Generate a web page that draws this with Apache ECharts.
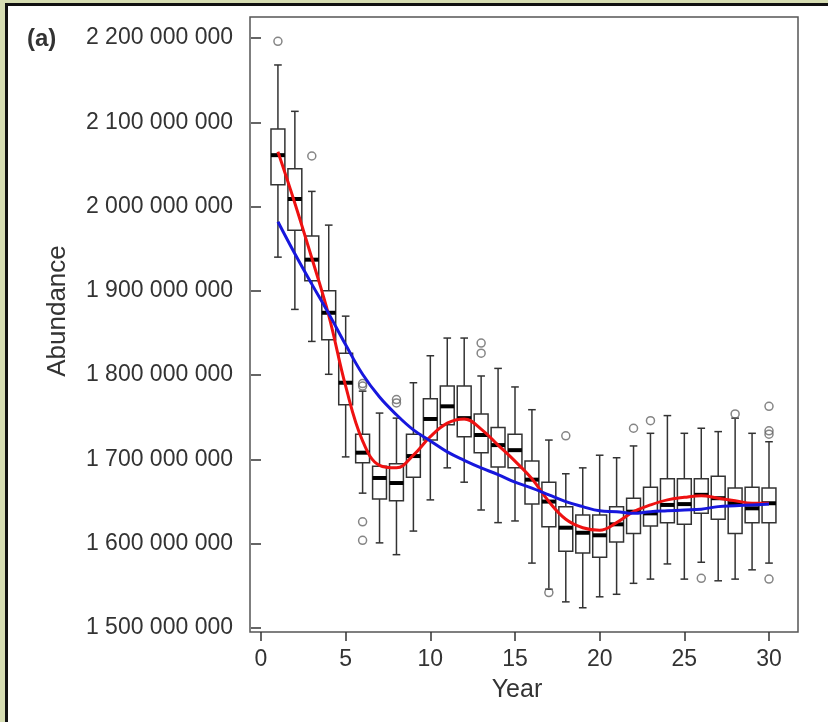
<!DOCTYPE html>
<html>
<head>
<meta charset="utf-8">
<script src="https://cdn.jsdelivr.net/npm/echarts@6/dist/echarts.min.js"></script>
<style>
  html, body { margin: 0; padding: 0; }
  body { width: 828px; height: 722px; background: #d6ddb2; position: relative; overflow: hidden; }
  .frame {
    position: absolute; left: 5px; top: 3px; right: -10px; bottom: -10px;
    background: #fff; border-left: 3px solid #111; border-top: 3px solid #111;
  }
  #chart { position: absolute; left: 0; top: 0; width: 828px; height: 722px; }
</style>
</head>
<body>
<div class="frame"></div>
<div id="chart"></div>
<script>
// values in millions
var years = [1,2,3,4,5,6,7,8,9,10,11,12,13,14,15,16,17,18,19,20,21,22,23,24,25,26,27,28,29,30];
var whiskerLow  = [1940,1878,1840,1801,1703,1660,1601,1587,1615,1652,1690,1673,1640,1625,1627,1577,1546,1531,1524,1537,1540,1553,1558,1576,1558,1578,1556,1558,1569,1577];
var q1          = [2026,1972,1912,1842,1765,1696,1653,1651,1679,1723,1741,1727,1708,1691,1690,1647,1620,1591,1589,1584,1602,1612,1621,1625,1623,1636,1629,1612,1625,1625];
var medians     = [2061,2009,1937,1874,1791,1708,1678,1672,1704,1748,1763,1749,1729,1717,1711,1676,1650,1619,1613,1610,1623,1638,1636,1646,1647,1658,1654,1648,1642,1648];
var q3          = [2092,2045,1965,1900,1826,1730,1692,1695,1730,1772,1787,1787,1754,1738,1730,1698,1673,1644,1634,1634,1644,1654,1667,1677,1677,1677,1680,1666,1667,1666];
var whiskerHigh = [2168,2113,2018,1978,1870,1781,1755,1749,1791,1823,1844,1844,1799,1808,1786,1759,1723,1683,1690,1705,1702,1716,1731,1752,1731,1737,1733,1749,1731,1721];
var outliers = [
  [1,2196],[3,2060],[6,1790],[6,1787],[6,1626],[6,1604],[8,1771],[8,1767],
  [13,1838],[13,1826],[17,1542],[18,1728],[22,1737],[23,1746],[26,1559],
  [28,1754],[30,1763],[30,1734],[30,1730],[30,1558]
];
var redCurve  = [2065,2004,1939,1871,1787,1722,1693,1690,1705,1727,1743,1748,1736,1717,1698,1677,1650,1629,1619,1616,1625,1638,1646,1652,1655,1657,1654,1651,1648,1648];
var blueCurve = [1982,1944,1908,1873,1836,1801,1774,1753,1735,1722,1709,1699,1690,1682,1673,1666,1658,1650,1644,1639,1638,1636,1638,1639,1640,1641,1644,1645,1646,1647];
var xTicks = [0,5,10,15,20,25,30];
var yMin = 1500, yMax = 2200, yStep = 100;

var FONT = "'Liberation Sans', Arial, sans-serif";
var TEXT = '#333';

function fmtBig(v) {
  var s = String(Math.round(v * 1e6));
  return s.replace(/\B(?=(\d{3})+(?!\d))/g, ' ');
}

var boxData = years.map(function (y, i) {
  return [y, whiskerLow[i], q1[i], medians[i], q3[i], whiskerHigh[i]];
});

function renderBox(params, api) {
  var x = api.value(0);
  var pLow = api.coord([x, api.value(1)]);
  var pQ1 = api.coord([x, api.value(2)]);
  var pMed = api.coord([x, api.value(3)]);
  var pQ3 = api.coord([x, api.value(4)]);
  var pHigh = api.coord([x, api.value(5)]);
  var w = api.size([1, 0])[0] * 0.82;
  var cap = w * 0.55;
  var cx = pMed[0];
  var st = { stroke: '#333', lineWidth: 1.5, fill: null };
  return {
    type: 'group',
    children: [
      { type: 'line', shape: { x1: cx, y1: pHigh[1], x2: cx, y2: pQ3[1] }, style: st },
      { type: 'line', shape: { x1: cx, y1: pQ1[1], x2: cx, y2: pLow[1] }, style: st },
      { type: 'line', shape: { x1: cx - cap / 2, y1: pHigh[1], x2: cx + cap / 2, y2: pHigh[1] }, style: st },
      { type: 'line', shape: { x1: cx - cap / 2, y1: pLow[1], x2: cx + cap / 2, y2: pLow[1] }, style: st },
      { type: 'rect', shape: { x: cx - w / 2, y: pQ3[1], width: w, height: pQ1[1] - pQ3[1] },
        style: { stroke: '#333', lineWidth: 1.5, fill: '#fff' } },
      { type: 'line', shape: { x1: cx - w / 2, y1: pMed[1], x2: cx + w / 2, y2: pMed[1] },
        style: { stroke: '#000', lineWidth: 4 } }
    ]
  };
}

var chart = echarts.init(document.getElementById('chart'), null, { renderer: 'canvas' });
var option = {
  animation: false,
  textStyle: { fontFamily: FONT },
  grid: [
    { left: 261, right: 59, top: 38, bottom: 94 },
    { left: 250, right: 30, top: 17, bottom: 90, show: true, borderColor: '#555', borderWidth: 1.5, backgroundColor: 'transparent' }
  ],
  xAxis: [
    {
      gridIndex: 0, type: 'value', min: 0, max: 30, interval: 5, offset: 4,
      axisLine: { show: false },
      axisTick: { show: true, length: 9, lineStyle: { color: '#333', width: 1.5 } },
      axisLabel: { margin: 16, fontSize: 23, color: TEXT, fontFamily: FONT,
        formatter: function (v) { return xTicks.indexOf(v) >= 0 ? String(v) : ''; } },
      splitLine: { show: false }
    },
    { gridIndex: 1, type: 'value', show: false }
  ],
  yAxis: [
    {
      gridIndex: 0, type: 'value', min: yMin, max: yMax, interval: yStep, offset: 11,
      axisLine: { show: false },
      axisTick: { show: true, length: 10, lineStyle: { color: '#333', width: 1.5 } },
      axisLabel: { margin: 17, fontSize: 23, color: TEXT, fontFamily: FONT, formatter: fmtBig },
      splitLine: { show: false }
    },
    { gridIndex: 1, type: 'value', show: false }
  ],
  graphic: [
    { type: 'text', left: 27, top: 27, style: { text: '(a)', fontSize: 24, fontWeight: 'bold', fill: TEXT, fontFamily: FONT } },
    { type: 'text', x: 58, y: 311, rotation: Math.PI / 2,
      style: { text: 'Abundance', fontSize: 26, fill: TEXT, fontFamily: FONT, align: 'center', verticalAlign: 'middle' } },
    { type: 'text', x: 517, y: 690,
      style: { text: 'Year', fontSize: 25, fill: TEXT, fontFamily: FONT, align: 'center', verticalAlign: 'middle' } }
  ],
  series: [
    {
      type: 'custom', xAxisIndex: 0, yAxisIndex: 0, renderItem: renderBox,
      encode: { x: 0, y: [1, 2, 3, 4, 5] }, data: boxData, z: 2, clip: false
    },
    {
      type: 'scatter', xAxisIndex: 0, yAxisIndex: 0, data: outliers,
      symbol: 'circle', symbolSize: 8,
      itemStyle: { color: 'transparent', borderColor: '#666', borderWidth: 1.5 }, z: 3
    },
    {
      type: 'line', xAxisIndex: 0, yAxisIndex: 0, smooth: 0.4, showSymbol: false,
      data: years.map(function (y, i) { return [y, redCurve[i]]; }),
      lineStyle: { color: '#ee1111', width: 3 }, z: 4
    },
    {
      type: 'line', xAxisIndex: 0, yAxisIndex: 0, smooth: 0.4, showSymbol: false,
      data: years.map(function (y, i) { return [y, blueCurve[i]]; }),
      lineStyle: { color: '#1717dd', width: 3 }, z: 5
    }
  ]
};
chart.setOption(option);
</script>
</body>
</html>
